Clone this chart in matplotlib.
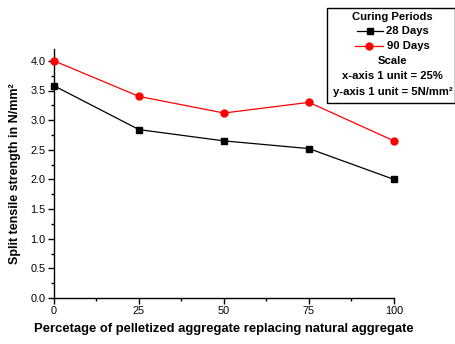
import matplotlib
matplotlib.use("Agg")
import matplotlib.pyplot as plt
from matplotlib.lines import Line2D
from matplotlib.patches import Rectangle
from matplotlib.ticker import MultipleLocator

replacement = [0, 25, 50, 75, 100]
days28 = [3.58, 2.84, 2.65, 2.52, 2.00]
days90 = [4.00, 3.40, 3.12, 3.30, 2.65]

plt.rcParams['font.family'] = ['Liberation Sans', 'DejaVu Sans']

W, H = 456, 344
fig = plt.figure(figsize=(W/100, H/100), dpi=100)
ax = fig.add_axes([54/W, 1-298/H, (394-54)/W, (298-49)/H])

ax.plot(replacement, days28, color='black', lw=0.9, marker='s', ms=4.5, clip_on=False, zorder=3)
ax.plot(replacement, days90, color='red', lw=0.9, marker='o', ms=5, clip_on=False, zorder=3)

ax.set_xlim(0, 100)
ax.set_ylim(0, 4.2)
ax.xaxis.set_major_locator(MultipleLocator(25))
ax.xaxis.set_minor_locator(MultipleLocator(12.5))
ax.yaxis.set_major_locator(MultipleLocator(0.5))
ax.yaxis.set_minor_locator(MultipleLocator(0.25))
ax.yaxis.set_major_formatter(matplotlib.ticker.FormatStrFormatter('%.1f'))
ax.spines['top'].set_visible(False)
ax.spines['right'].set_visible(False)
for s in ('left', 'bottom'):
    ax.spines[s].set_linewidth(1.0)
ax.tick_params(which='major', direction='out', length=4, width=1, labelsize=7.8, pad=2)
ax.tick_params(which='minor', direction='out', length=2.5, width=1)

ax.set_xlabel('Percetage of pelletized aggregate replacing natural aggregate',
              fontsize=9.4, fontweight='bold', labelpad=5)
ax.set_ylabel('Split tensile strength in N/mm²', fontsize=9, fontweight='bold', labelpad=7)

# legend box
def fx(x): return x / W
def fy(y): return 1 - y / H

fig.patches.append(Rectangle((fx(327), fy(103)), fx(455) - fx(327), fy(8) - fy(103),
                             transform=fig.transFigure, fill=False, edgecolor='black', lw=1.0))
kw = dict(fontsize=8.1, fontweight='bold', transform=fig.transFigure, va='center')
fig.text(fx(392), fy(17), 'Curing Periods', ha='center', **kw)
fig.lines.append(Line2D([fx(357), fx(383)], [fy(31), fy(31)], color='black', lw=0.9,
                        transform=fig.transFigure))
fig.lines.append(Line2D([fx(370)], [fy(31)], color='black', marker='s', ms=4.5,
                        transform=fig.transFigure))
fig.text(fx(386), fy(31), '28 Days', ha='left', **kw)
fig.lines.append(Line2D([fx(355), fx(383)], [fy(46), fy(46)], color='red', lw=0.9,
                        transform=fig.transFigure))
fig.lines.append(Line2D([fx(369)], [fy(46)], color='red', marker='o', ms=5,
                        transform=fig.transFigure))
fig.text(fx(387), fy(46), '90 Days', ha='left', **kw)
fig.text(fx(392), fy(61), 'Scale', ha='center', **kw)
fig.text(fx(392), fy(76), 'x-axis 1 unit = 25%', ha='center', **kw)
fig.text(fx(393), fy(92), 'y-axis 1 unit = 5N/mm²', ha='center', **kw)

fig.savefig('out.png', dpi=100)
